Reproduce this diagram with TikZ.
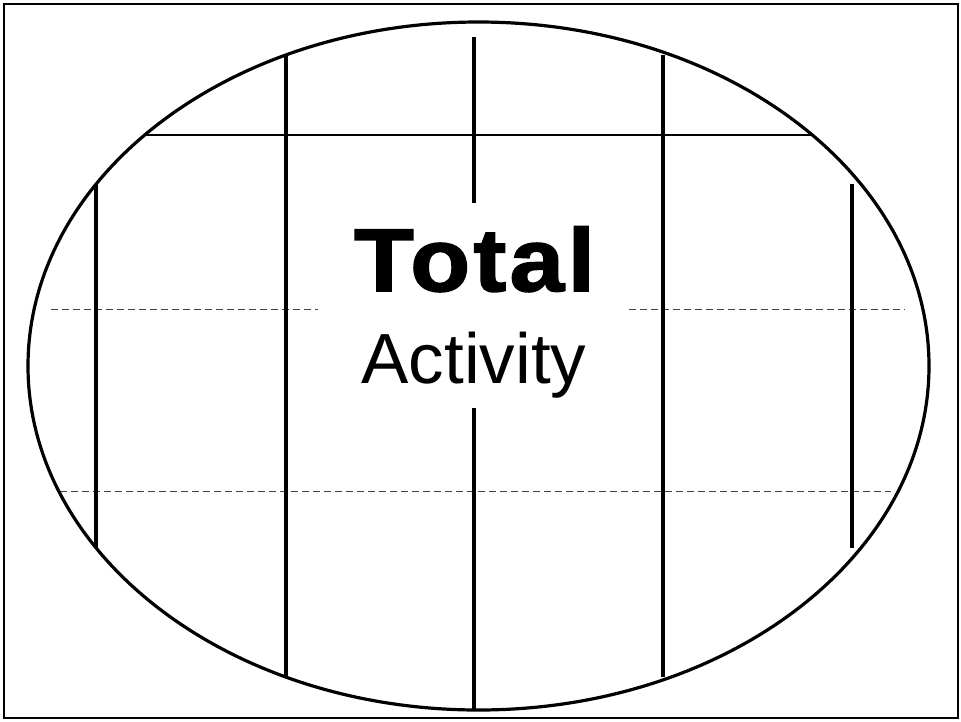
\documentclass[tikz,border=0pt]{standalone}
\usepackage{fontspec}
\setmainfont{Liberation Sans}
\newfontfamily\heavyfont[FakeBold=2,FakeStretch=1.1,LetterSpace=4]{Liberation Sans Bold}
\begin{document}
\begin{tikzpicture}[x=1pt,y=-1pt,
  frame/.style={draw=black,line width=2pt},
  oval/.style={draw=black,line width=3.2pt},
  divider/.style={draw=black,line width=3.6pt},
  crossline/.style={draw=black,line width=2.8pt},
  guide/.style={draw=black!75,line width=0.9pt,dash pattern=on 7pt off 4pt},
  label/.style={inner sep=0pt,anchor=base,text=black}]
\useasboundingbox (0,0) rectangle (961,721);
\fill[white] (0,0) rectangle (961,721);
\draw[frame] (4,4) rectangle (958,718);
% guides
\draw[guide] (51,309) -- (318,309);
\draw[guide] (629,309) -- (905,309);
\draw[guide] (60,491) -- (891,491);
% horizontal solid line
\draw[crossline] (144.7,135) -- (812.3,135);
% vertical dividers
\draw[divider] (96,184) -- (96,548);
\draw[divider] (286,55) -- (286,677);
\draw[divider] (663,55) -- (663,677);
\draw[divider] (852,184) -- (852,548);
\draw[divider] (474,37) -- (474,203);
\draw[divider] (474,408) -- (474,710);
% ellipse
\draw[oval] (478.5,366) ellipse [x radius=450.5, y radius=344];
% texts
\node[label,font=\heavyfont\fontsize{89}{89}\selectfont] (total) at (474.5,291) {Total};
\node[label,font=\fontsize{71}{71}\selectfont] (activity) at (474,383) {Activity};
\end{tikzpicture}
\end{document}
